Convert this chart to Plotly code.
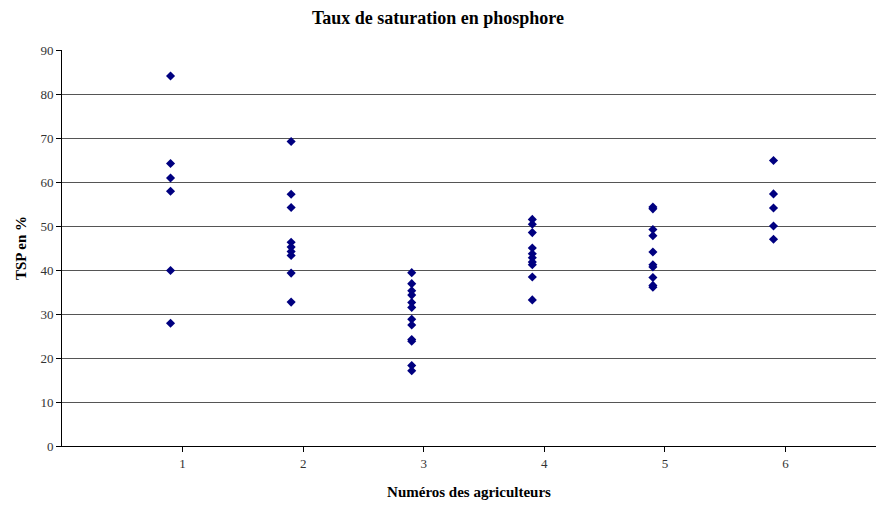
import plotly.graph_objects as go

# x positions (agriculteur number, plotted slightly left of tick as in original)
farmers = [1, 2, 3, 4, 5, 6]
offset = -0.1

tsp_1 = [84.1, 64.2, 60.9, 57.9, 39.9, 27.9]
tsp_2 = [69.2, 57.2, 54.2, 46.3, 45.2, 44.2, 43.3, 39.3, 32.7]
tsp_3 = [39.4, 36.9, 35.3, 34.3, 32.6, 31.5, 28.8, 27.5, 24.2, 23.8, 18.3, 17.1]
tsp_4 = [51.5, 50.4, 48.5, 45.0, 43.7, 42.8, 41.8, 41.2, 38.4, 33.2]
tsp_5 = [54.3, 53.9, 49.2, 47.8, 44.1, 41.2, 40.7, 38.3, 36.5, 36.1]
tsp_6 = [64.9, 57.3, 54.1, 50.0, 47.0]

series = [tsp_1, tsp_2, tsp_3, tsp_4, tsp_5, tsp_6]

xs, ys = [], []
for f, vals in zip(farmers, series):
    for v in vals:
        xs.append(f + offset)
        ys.append(v)

serif = "Liberation Serif, Times New Roman, serif"

fig = go.Figure()
fig.add_trace(go.Scatter(
    x=xs, y=ys, mode="markers",
    marker=dict(symbol="diamond", size=7, color="#000080", line=dict(width=0)),
    showlegend=False,
))

fig.update_layout(
    width=876, height=506,
    margin=dict(l=62, r=0, t=50, b=60),
    paper_bgcolor="white", plot_bgcolor="white",
    title=dict(text="<b>Taux de saturation en phosphore</b>",
               x=0.5, xref="container", xanchor="center",
               y=0.966, yref="container", yanchor="middle",
               font=dict(family=serif, size=18, color="black")),
    font=dict(family=serif, size=12, color="#333333"),
)

fig.update_xaxes(
    range=[0, 6.75], tickvals=farmers, ticktext=[str(f) for f in farmers],
    showgrid=False, zeroline=False,
    showline=True, linecolor="black", linewidth=1,
    ticks="outside", ticklen=5, tickcolor="black",
    tickfont=dict(family=serif, size=13, color="#333333"),
    title=dict(text="<b>Numéros des agriculteurs</b>",
               font=dict(family=serif, size=15, color="black"), standoff=16),
)
fig.update_yaxes(
    range=[0, 90], dtick=10, tick0=0,
    showgrid=True, gridcolor="#555555", gridwidth=1,
    zeroline=False,
    showline=True, linecolor="black", linewidth=1,
    ticks="outside", ticklen=5, tickcolor="black",
    tickfont=dict(family=serif, size=13, color="#333333"),
    title=dict(text="<b>TSP en %</b>",
               font=dict(family=serif, size=15, color="black"), standoff=10),
)

fig.write_html("out.html")
